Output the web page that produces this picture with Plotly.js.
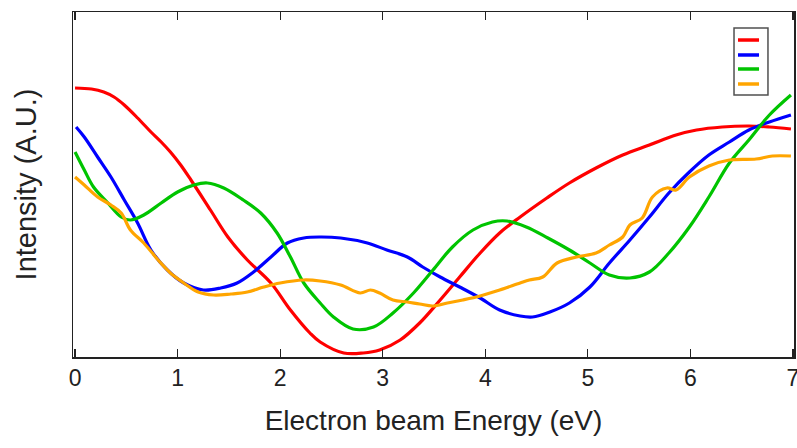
<!DOCTYPE html>
<html>
<head>
<meta charset="utf-8">
<script src="https://cdn.plot.ly/plotly-3.0.1.min.js"></script>
<style>html,body{margin:0;padding:0;background:#fff;}#chart{width:797px;height:448px;}</style>
</head>
<body>
<div id="chart"></div>
<script>
// Electron beam energy (eV) and intensity (arbitrary units)
const redX = [0.00,0.16,0.28,0.38,0.48,0.61,0.74,0.84,0.93,1.03,1.13,1.32,1.49,1.68,1.91,2.10,2.29,2.39,2.62,2.81,2.97,3.17,3.36,3.56,3.75,3.95,4.14,4.34,4.60,4.82,5.08,5.34,5.60,5.86,6.06,6.31,6.57,6.77,6.98];
const redY = [269,268,265,260,252,239,225,215,205,192,177,147,120,97,74,47,24,15,4,4,7,17,34,57,80,104,124,140,159,174,189,202,212,222,227,230,231,230,228];

const blueX = [0.01,0.09,0.22,0.35,0.48,0.61,0.74,0.90,1.06,1.25,1.42,1.58,1.74,1.91,2.07,2.23,2.39,2.59,2.85,3.04,3.24,3.39,3.56,3.75,3.95,4.14,4.34,4.46,4.63,4.82,5.02,5.21,5.41,5.60,5.79,5.99,6.18,6.38,6.57,6.77,6.98];
const blueY = [230,220,200,180,157,134,107,87,74,67,69,74,85,100,114,119,120,119,114,107,100,90,80,70,59,47,41,40,45,54,70,94,117,140,164,185,202,215,227,235,242];

const greenX = [0.00,0.09,0.18,0.32,0.45,0.54,0.67,0.84,1.00,1.16,1.29,1.45,1.64,1.81,1.97,2.10,2.23,2.39,2.52,2.71,2.91,3.10,3.30,3.49,3.68,3.88,4.07,4.21,4.40,4.61,4.82,5.02,5.21,5.41,5.60,5.79,5.99,6.18,6.38,6.57,6.77,6.98];
const greenY = [205,187,170,154,140,137,142,154,165,172,174,169,157,144,124,100,74,54,40,28,30,44,64,87,110,127,135,136,130,119,107,94,82,79,85,104,130,160,194,217,242,262];

const orangeX = [0.00,0.09,0.22,0.35,0.45,0.54,0.67,0.81,0.93,1.06,1.20,1.35,1.52,1.68,1.84,2.00,2.23,2.39,2.59,2.78,2.88,2.97,3.10,3.24,3.36,3.49,3.63,3.78,3.95,4.14,4.34,4.43,4.56,4.70,4.89,5.08,5.21,5.34,5.41,5.53,5.63,5.77,5.86,5.99,6.18,6.38,6.64,6.80,6.98];
const orangeY = [180,172,160,152,144,127,114,97,84,74,65,62,63,65,70,74,77,76,72,64,67,64,57,55,53,51,54,57,61,67,74,77,80,94,100,104,112,120,132,139,160,169,167,180,191,197,198,201,201];

const seriesColors = ['#ff0000', '#0000ff', '#00c400', '#ffa500'];

const xTicks = [0,1,2,3,4,5,6,7];
const xTickText = ['0','1','2','3','4','5','6','7'];

const mk = (x, y, color) => ({
  x: x, y: y, type: 'scatter', mode: 'lines', showlegend: false,
  line: {color: color, width: 3.2, shape: 'spline', smoothing: 1},
  hoverinfo: 'skip'
});

const data = [
  mk(redX, redY, seriesColors[0]),
  mk(blueX, blueY, seriesColors[1]),
  mk(greenX, greenY, seriesColors[2]),
  mk(orangeX, orangeY, seriesColors[3])
];

// Legend box without labels (as in the original), drawn in paper coordinates
const legendShapes = [{
  type: 'rect', xref: 'paper', yref: 'paper',
  x0: 0.9168, x1: 0.9639, y0: 0.7594, y1: 0.9536,
  line: {color: '#505050', width: 1.5}, fillcolor: '#ffffff', layer: 'above'
}];
const legendRowY = [0.9188, 0.8754, 0.8348, 0.7913];
seriesColors.forEach((c, i) => {
  legendShapes.push({
    type: 'line', xref: 'paper', yref: 'paper',
    x0: 0.9223, x1: 0.9515, y0: legendRowY[i], y1: legendRowY[i],
    line: {color: c, width: 3.5}, layer: 'above'
  });
});

const FONT = 'Liberation Sans, Arial, sans-serif';

const layout = {
  width: 797, height: 448,
  margin: {l: 73, r: 3, t: 12, b: 91},
  paper_bgcolor: '#ffffff', plot_bgcolor: '#ffffff',
  showlegend: false,
  shapes: legendShapes,
  xaxis: {
    range: [-0.02, 7.01], tickvals: xTicks, ticktext: xTickText,
    ticks: 'inside', ticklen: 8, tickwidth: 1.2, tickcolor: '#222',
    showline: true, linecolor: '#222', linewidth: 1.5, mirror: 'ticks',
    showgrid: false, zeroline: false, ticklabeloverflow: 'allow',
    tickfont: {family: FONT, size: 23, color: '#222'},
    title: {text: 'Electron beam Energy (eV)', standoff: 20,
      font: {family: FONT, size: 28, color: '#222'}}
  },
  yaxis: {
    range: [0, 345], showticklabels: false, ticks: '',
    showline: true, linecolor: '#222', linewidth: 1.5, mirror: true,
    showgrid: false, zeroline: false,
    title: {text: 'Intensity (A.U.)', standoff: 26,
      font: {family: FONT, size: 29, color: '#222'}}
  }
};

Plotly.newPlot('chart', data, layout, {displayModeBar: false, staticPlot: true});
</script>
</body>
</html>
